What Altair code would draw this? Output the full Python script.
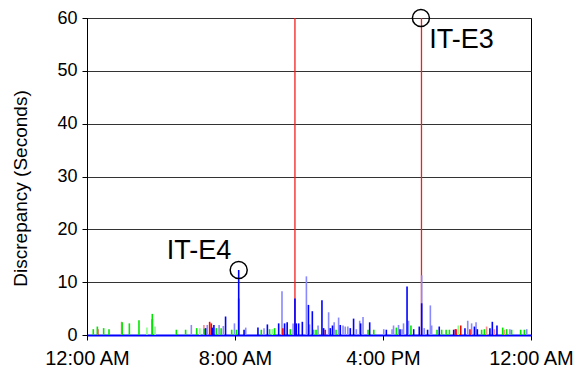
import altair as alt
import pandas as pd

# ---- data (hours after midnight, discrepancy in seconds) ----
green_hours = [0.34, 0.56, 0.9, 1.19, 1.9, 2.29, 2.81, 3.53, 4.83, 5.33, 5.93, 6.33, 6.99, 7.25,
               7.82, 8.08, 9.42, 9.87, 10.14, 10.99, 12.25, 12.38, 13.46, 15.19, 15.5, 16.72,
               17.51, 18.92, 19.17, 19.41, 19.59, 21.33, 21.48, 22.47, 22.68, 22.95, 23.44, 23.64]
green_values = [1.1, 1.6, 1.3, 1.1, 2.4, 2.2, 2.8, 4.0, 1.0, 1.0, 1.3, 1.2, 1.3, 1.3,
                1.0, 1.0, 1.0, 1.1, 1.3, 1.1, 1.0, 1.0, 1.0, 1.0, 1.0, 1.4,
                1.8, 1.0, 1.0, 1.0, 1.0, 1.0, 1.1, 1.4, 1.1, 1.0, 1.0, 1.0]

light_green_hours = [3.24, 3.68, 6.1, 10.02, 20.07]
light_green_values = [1.4, 1.6, 1.3, 1.1, 1.8]

red_hours = [0.58, 3.53, 6.63, 6.72, 8.2, 10.59, 11.24, 12.88, 18.08, 19.91, 19.95, 20.2, 20.7]
red_values = [1.1, 3.0, 2.5, 2.2, 6.9, 1.3, 60, 1.0, 60, 1.1, 1.1, 1.8, 1.1]

light_red_hours = [1.87, 6.32, 21.6, 22.02, 22.56]
light_red_values = [2.5, 1.9, 1.6, 1.1, 1.0]

blue_hours = [6.41, 6.77, 6.86, 7.49, 8.2, 8.49, 9.24, 9.75, 10.36, 10.68, 10.82, 11.24, 11.31,
              11.44, 11.64, 11.97, 12.18, 12.7, 12.79, 13.15, 13.27, 13.69, 14.23, 14.41, 14.79,
              15.28, 16.18, 16.92, 17.3, 17.66, 17.96, 18.09, 18.41, 19.04, 19.82, 20.43, 20.94,
              21.1, 21.78, 21.91, 22.16]
blue_values = [1.3, 1.4, 1.9, 3.5, 12.3, 1.0, 1.4, 2.0, 2.2, 2.2, 2.4, 6.9, 2.2,
               2.2, 2.5, 5.7, 4.5, 6.6, 1.3, 1.3, 1.8, 1.9, 1.3, 3.1, 2.2,
               2.4, 1.0, 1.1, 9.2, 1.1, 1.6, 6.0, 1.0, 1.6, 1.0, 1.3, 1.6,
               1.1, 1.3, 2.5, 1.8]

light_blue_hours = [5.64, 6.5, 7.14, 7.37, 7.97, 8.58, 9.57, 10.54, 11.14, 11.86, 12.03, 12.49,
                    13.06, 13.36, 13.6, 13.84, 13.96, 14.1, 14.56, 14.74, 14.92, 16.04, 16.49,
                    16.57, 16.84, 17.03, 17.11, 17.38, 18.09, 18.23, 18.56, 18.63, 20.58, 20.79,
                    21.03, 22.86, 23.77]
light_blue_values = [1.9, 1.9, 1.9, 1.7, 2.2, 1.4, 1.3, 8.3, 2.2, 11.1, 2.0, 1.8,
                     4.3, 2.4, 3.3, 1.8, 1.6, 1.6, 1.1, 2.7, 3.4, 1.1, 1.1,
                     1.8, 1.9, 1.1, 2.2, 2.7, 11.3, 1.3, 5.6, 1.8, 2.7, 2.2,
                     2.4, 1.1, 1.1]

series_names = ["Light green", "Light red", "Light blue", "Red", "Green", "Blue"]
series_colors = ["#88ff88", "#ff8888", "#8888ff", "#ff0000", "#00e600", "#0000ff"]

annot_names = ["IT-E4", "IT-E3"]
annot_hours = [8.2, 18.05]
annot_values = [12.3, 60]
label_hours = [6.05, 20.25]
label_values = [14.4, 54.3]

tick_hours = [0, 8, 16, 24]
tick_labels = ["12:00 AM", "8:00 AM", "4:00 PM", "12:00 AM"]

# ---- build tables ----
groups = [
    ("Light green", light_green_hours, light_green_values),
    ("Light red", light_red_hours, light_red_values),
    ("Light blue", light_blue_hours, light_blue_values),
    ("Red", red_hours, red_values),
    ("Green", green_hours, green_values),
    ("Blue", blue_hours, blue_values),
]
rows = []
for name, hs, vs in groups:
    for h, v in zip(hs, vs):
        rows.append({"hour": h, "value": v, "series": name})
spikes = pd.DataFrame(rows)

annots = pd.DataFrame({"name": annot_names, "hour": annot_hours, "value": annot_values,
                       "lhour": label_hours, "lvalue": label_values})

FONT = "Liberation Sans"
label_expr = "[%s][indexof([%s], datum.value)]" % (
    ",".join("'%s'" % t for t in tick_labels), ",".join(str(h) for h in tick_hours))

x_scale = alt.Scale(domain=[0, 24], nice=False, zero=False)
y_scale = alt.Scale(domain=[0, 60], nice=False)
color_scale = alt.Scale(domain=series_names, range=series_colors)

x_axis = alt.Axis(values=tick_hours, labelExpr=label_expr, title=None, grid=False,
                  labelFont=FONT, labelFontSize=20, labelColor="#000", tickColor="#000",
                  tickSize=5, labelPadding=8, domainColor="#0000ff", domainWidth=2,
                  labelOverlap=False, labelFlush=False, labelBound=False)
y_axis = alt.Axis(values=[0, 10, 20, 30, 40, 50, 60], title="Discrepancy (Seconds)",
                  grid=True, gridColor="#333333", gridWidth=1, gridOpacity=1,
                  labelFont=FONT, labelFontSize=18, labelColor="#000", tickColor="#000",
                  tickSize=5, labelPadding=5, domainColor="#000",
                  titleFont=FONT, titleFontSize=19, titleFontWeight="normal", titleColor="#000",
                  titleX=-67, titleY=170, titleAngle=270, titleAlign="center",
                  titleBaseline="middle")

base = alt.Chart(spikes)
small = base.transform_filter("datum.value < 60").mark_rule(strokeWidth=1.6).encode(
    x=alt.X("hour:Q", scale=x_scale, axis=x_axis),
    y=alt.Y("value:Q", scale=y_scale, axis=y_axis),
    y2=alt.datum(0),
    color=alt.Color("series:N", scale=color_scale, legend=None),
)
tall = base.transform_filter("datum.value >= 60").mark_rule(strokeWidth=1.3, color="#f02020").encode(
    x=alt.X("hour:Q", scale=x_scale),
    y=alt.Y("value:Q", scale=y_scale),
    y2=alt.datum(0),
)

circles = alt.Chart(annots).mark_point(shape="circle", filled=False, color="#000",
                                       strokeWidth=1.5, size=290, opacity=1).encode(
    x=alt.X("hour:Q", scale=x_scale),
    y=alt.Y("value:Q", scale=y_scale),
)

texts = alt.Chart(annots).mark_text(font=FONT, fontSize=27, color="#000", align="center",
                                    baseline="alphabetic").encode(
    x=alt.X("lhour:Q", scale=x_scale),
    y=alt.Y("lvalue:Q", scale=y_scale),
    text="name:N",
)

chart = alt.layer(tall, small, circles, texts).properties(
    width=444, height=317,
    autosize=alt.AutoSizeParams(type="none"),
    padding={"left": 87, "top": 18, "right": 48, "bottom": 41},
    background="white",
).configure_view(stroke="#000", strokeWidth=1)

chart.save("out.html", embed_options={"renderer": "svg", "actions": False})
